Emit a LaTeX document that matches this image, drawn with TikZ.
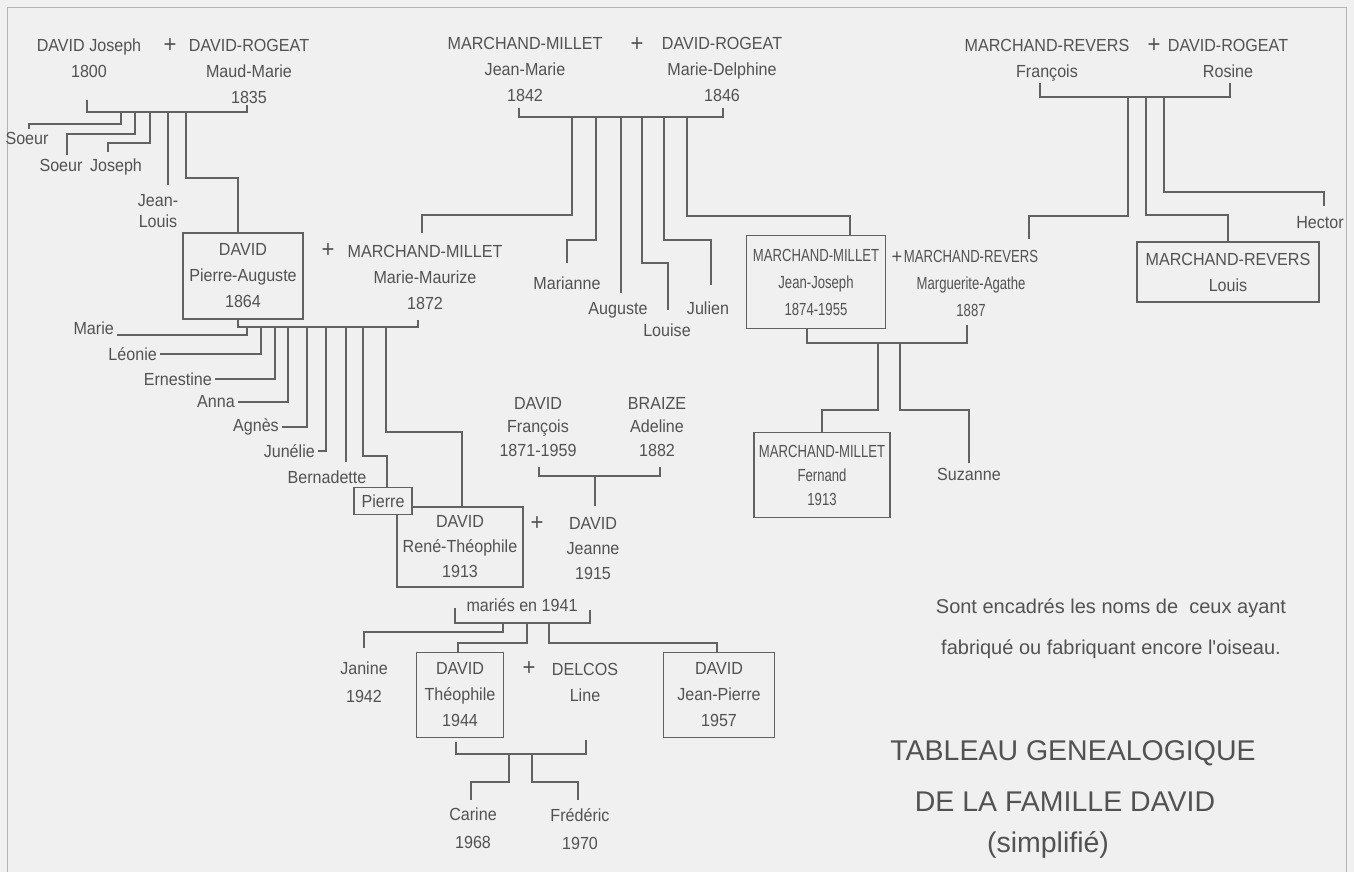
\documentclass[tikz,border=0pt]{standalone}
\usepackage{fontspec}
\setmainfont[FakeStretch=0.92]{Liberation Sans}
\newfontfamily\slimfont[FakeStretch=0.75]{Liberation Sans}
\newfontfamily\plainfont{Liberation Sans}
\usepackage{tikz}

\definecolor{paper}{RGB}{240,240,240}
\definecolor{ink}{RGB}{82,82,82}
\definecolor{rule}{RGB}{98,98,98}
\definecolor{frame}{RGB}{180,180,180}

\newcommand\namesize{\fontsize{17.5}{26}\selectfont}
\newcommand\titlesize{\plainfont\fontsize{28.5}{34}\selectfont}

\begin{document}
\begin{tikzpicture}[
  x=1pt, y={(0pt,-1pt)},
  every node/.style={font=\namesize, text=ink},
  who/.style={anchor=north, inner sep=0pt, align=center},
  side/.style={anchor=east, inner xsep=3pt, inner ysep=0pt},
  maker/.style={draw=rule, line width=1.2pt, inner sep=0pt, align=center},
  plus/.style={font=\fontsize{24}{24}\selectfont, inner sep=0pt},
  link/.style={draw=rule, line width=1.2pt}
]
\useasboundingbox (0,0) rectangle (1354,872);
\fill[paper] (0,0) rectangle (1354,872);
\draw[frame, line width=1pt] (7,872) -- (7,8) -- (1346,8) -- (1346,872);

% Joseph + Maud-Marie
\node[who] (joseph) at (89,39) {DAVID Joseph\\1800};
\node[plus] (plus1) at (170,46) {+};
\node[who] (maud) at (249,39) {DAVID-ROGEAT\\Maud-Marie\\1835};
\coordinate (j1l) at (87,100);
\coordinate (j1r) at (247,105);
\coordinate (bar1) at (167,112);
\draw[link] (j1l) |- (bar1) -| (j1r);
\foreach \x [count=\i] in {121,135,150,168,186} \coordinate (f1c\i) at (\x,112);

\node[who] (soeurA) at (27,132) {Soeur};
\node[who] (soeurB) at (61,159) {Soeur};
\node[who] (josephB) at (116,159) {Joseph};
\node[who] (jeanlouis) at (158,194) {Jean-\\[-5pt]Louis};
\draw[link] (f1c1) -- ++(0,12) -| ([xshift=2pt,yshift=3pt]soeurA.north);
\draw[link] (f1c2) -- ++(0,22) -| ([xshift=6pt,yshift=4pt]soeurB.north);
\draw[link] (f1c3) -- ++(0,31) -| ([xshift=-8pt,yshift=7pt]josephB.north);
\draw[link] (f1c4) -- ([yshift=9pt]f1c4 |- jeanlouis.north);

% Pierre-Auguste + Marie-Maurize
\node[maker, minimum width=120pt, minimum height=86pt] (pa) at (243,276)
   {DAVID\\Pierre-Auguste\\1864};
\draw[link] (f1c5) -- ++(0,66) -| ([xshift=-5pt]pa.north);
\node[plus] (plus2) at (328,251) {+};
\node[who] (maurize) at (425,245) {MARCHAND-MILLET\\Marie-Maurize\\1872};

% Jean-Marie + Marie-Delphine
\node[who] (jmarie) at (525,37) {MARCHAND-MILLET\\Jean-Marie\\1842};
\node[plus] (plus3) at (637,45) {+};
\node[who] (delphine) at (722,37) {DAVID-ROGEAT\\Marie-Delphine\\1846};
\coordinate (j2l) at (519,108);
\coordinate (j2r) at (723,108);
\coordinate (bar2) at (621,117);
\draw[link] (j2l) |- (bar2) -| (j2r);
\foreach \x [count=\i] in {572,596,621,642,664,687} \coordinate (f2c\i) at (\x,117);

\node[who] (marianne) at (567,277) {Marianne};
\node[who] (auguste) at (618,302) {Auguste};
\node[who] (louise) at (667,324) {Louise};
\node[who] (julien) at (708,302) {Julien};
\draw[link] (f2c1) -- ++(0,98) -| ([xshift=-3pt,yshift=12pt]maurize.north);
\draw[link] (f2c2) -- ++(0,123) -| ([yshift=14pt]marianne.north);
\draw[link] (f2c3) -- ([yshift=9pt]f2c3 |- auguste.north);
\draw[link] (f2c4) -- ++(0,146) -| ([xshift=1pt,yshift=14pt]louise.north);
\draw[link] (f2c5) -- ++(0,123) -| ([xshift=3pt,yshift=17pt]julien.north);

% Jean-Joseph + Marguerite-Agathe
\node[maker, minimum width=139pt, minimum height=93pt,
      font=\slimfont\fontsize{17.5}{27}\selectfont] (jj) at (816,282)
   {MARCHAND-MILLET\\Jean-Joseph\\1874-1955};
\draw[link] (f2c6) -- ++(0,99) -| ([xshift=34pt]jj.north);
\node[plus, font=\fontsize{20}{20}\selectfont] (plus4) at (897,258) {+};
\node[who, font=\slimfont\fontsize{17.5}{27}\selectfont] (agathe) at (971,250)
   {MARCHAND-REVERS\\Marguerite-Agathe\\1887};
\coordinate (bar4) at (887,343);
\coordinate (j4r) at (967,325);
\draw[link] ([xshift=-9pt]jj.south) |- (bar4) -| (j4r);
\foreach \x [count=\i] in {878,900} \coordinate (f4c\i) at (\x,343);

\node[maker, minimum width=136pt, minimum height=85pt,
      font=\slimfont\fontsize{17.5}{24}\selectfont] (fernand) at (822,475)
   {MARCHAND-MILLET\\Fernand\\1913};
\node[who] (suzanne) at (969,468) {Suzanne};
\draw[link] (f4c1) -- ++(0,67) -| (fernand.north);
\draw[link] (f4c2) -- ++(0,67) -| ([yshift=5pt]suzanne.north);

% François + Rosine
\node[who] (frevers) at (1047,39) {MARCHAND-REVERS\\François};
\node[plus] (plus5) at (1154,46) {+};
\node[who] (rosine) at (1228,39) {DAVID-ROGEAT\\Rosine};
\coordinate (j3l) at (1040,83);
\coordinate (j3r) at (1230,83);
\coordinate (bar3) at (1146,97);
\draw[link] (j3l) |- (bar3) -| (j3r);
\foreach \x [count=\i] in {1128,1146,1164} \coordinate (f3c\i) at (\x,97);

\node[maker, minimum width=182pt, minimum height=60pt] (louis) at (1228,272)
   {MARCHAND-REVERS\\Louis};
\node[who] (hector) at (1320,216) {Hector};
\draw[link] (f3c1) -- ++(0,119) -| ([xshift=58pt,yshift=11pt]agathe.north);
\draw[link] (f3c2) -- ++(0,118) -| (louis.north);
\draw[link] (f3c3) -- ++(0,95) -| ([xshift=4pt,yshift=10pt]hector.north);

% children of Pierre-Auguste
\coordinate (bar5) at (328,327);
\coordinate (j5r) at (418,320);
\draw[link] ([xshift=-5pt]pa.south) |- (bar5) -| (j5r);
\foreach \x [count=\i] in {247,261,275,288,307,326,346,363,386} \coordinate (f5c\i) at (\x,327);

\node[side] (marie) at (117,328) {Marie};
\node[side] (leonie) at (160,354) {Léonie};
\node[side] (ernestine) at (215,379) {Ernestine};
\node[side] (anna) at (238,402) {Anna};
\node[side] (agnes) at (282,427) {Agnès};
\node[side] (junelie) at (318,451) {Junélie};
\node[who] (bernadette) at (327,471) {Bernadette};
\draw[link] (f5c1) |- ([yshift=-7pt]marie.east);
\draw[link] (f5c2) |- (leonie.east);
\draw[link] (f5c3) |- (ernestine.east);
\draw[link] (f5c4) |- (anna.east);
\draw[link] (f5c5) |- (agnes.east);
\draw[link] (f5c6) |- (junelie.east);
\draw[link] (f5c7) -- ([yshift=9pt]f5c7 |- bernadette.north);

% René-Théophile + Jeanne
\node[maker, minimum width=126pt, minimum height=80pt,
      font=\fontsize{17.5}{25}\selectfont] (rene) at (460,547)
   {DAVID\\René-Théophile\\1913};
\node[maker, fill=paper, minimum width=58pt, minimum height=27pt] (pierre) at (383,501) {Pierre};
\draw[link] (f5c8) -- ++(0,129) -| ([xshift=4pt]pierre.north);
\draw[link] (f5c9) -- ++(0,105) -| ([xshift=2pt]rene.north);
\node[plus] (plus6) at (537,524) {+};
\node[who, font=\fontsize{17.5}{25}\selectfont] (jeanne) at (593,517) {DAVID\\Jeanne\\1915};

% François + Adeline
\node[who, font=\fontsize{17.5}{23.5}\selectfont] (fdavid) at (538,397) {DAVID\\François\\1871-1959};
\node[who, font=\fontsize{17.5}{23.5}\selectfont] (adeline) at (657,397) {BRAIZE\\Adeline\\1882};
\coordinate (j6l) at (539,467);
\coordinate (j6r) at (660,467);
\coordinate (bar6) at (595,476);
\draw[link] (j6l) |- (bar6) -| (j6r);
\draw[link] (bar6) -- ([yshift=11pt]bar6 |- jeanne.north);

% children of René-Théophile
\node (wed41) at (522,605) {mariés en 1941};
\coordinate (j7l) at (455,608);
\coordinate (j7r) at (590,610);
\coordinate (bar7) at (522,623);
\draw[link] (j7l) |- (bar7) -| (j7r);
\foreach \x [count=\i] in {503,527,549} \coordinate (f7c\i) at (\x,623);

\node[who, font=\fontsize{17.5}{28}\selectfont] (janine) at (364,662) {Janine\\1942};
\node[maker, minimum width=87pt, minimum height=85pt] (theo) at (460,695)
   {DAVID\\Théophile\\1944};
\node[plus] (plus7) at (529,669) {+};
\node[who] (delcos) at (585,663) {DELCOS\\Line};
\node[maker, minimum width=111pt, minimum height=85pt] (jpierre) at (719,695)
   {DAVID\\Jean-Pierre\\1957};
\draw[link] (f7c1) -- ++(0,9) -| ([yshift=14pt]janine.north);
\draw[link] (f7c2) -- ++(0,20) -| ([xshift=-2pt]theo.north);
\draw[link] (f7c3) -- ++(0,20) -| ([xshift=-2pt]jpierre.north);

% Théophile + Line
\coordinate (bar8) at (521,754);
\coordinate (j8r) at (586,740);
\draw[link] ([xshift=-4pt,yshift=-4pt]theo.south) |- (bar8) -| (j8r);
\foreach \x [count=\i] in {509,532} \coordinate (f8c\i) at (\x,754);

\node[who, font=\fontsize{17.5}{28}\selectfont] (carine) at (473,808) {Carine\\1968};
\node[who, font=\fontsize{17.5}{28}\selectfont] (frederic) at (580,808) {Frédéric\\1970};
\draw[link] (f8c1) -- ++(0,28) -| ([xshift=-2pt,yshift=8pt]carine.north);
\draw[link] (f8c2) -- ++(0,28) -| ([xshift=-2pt,yshift=8pt]frederic.north);

% Annotation and title
\node[font=\plainfont\fontsize{20}{41}\selectfont, align=center] (note) at (1111,629)
   {Sont encadrés les noms de\ \ ceux ayant\\fabriqué ou fabriquant encore l'oiseau.};
\node[font=\titlesize] (title1) at (1073,753) {TABLEAU GENEALOGIQUE};
\node[font=\titlesize] (title2) at (1065,802) {DE LA FAMILLE DAVID};
\node[font=\titlesize] (title3) at (1048,845) {(simplifié)};

\end{tikzpicture}
\end{document}
